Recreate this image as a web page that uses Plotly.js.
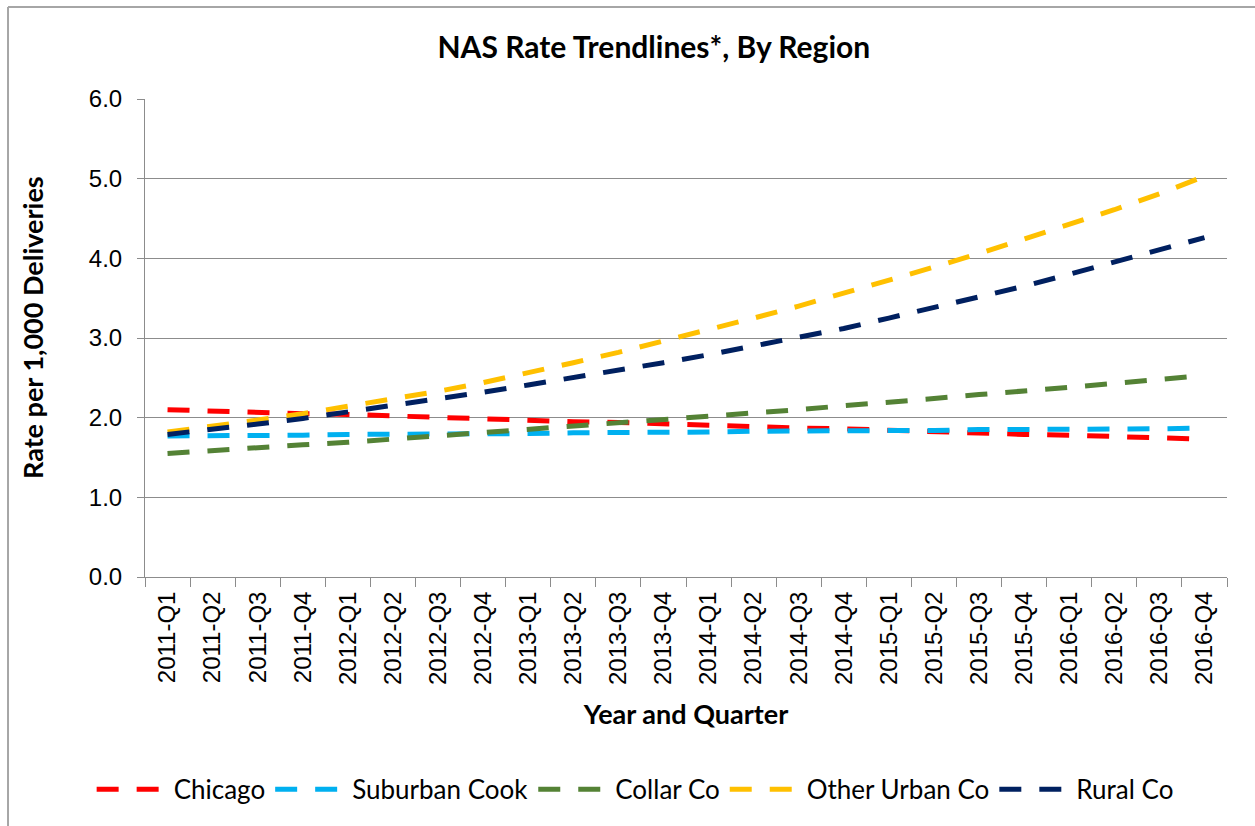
<!DOCTYPE html>
<html>
<head>
<meta charset="utf-8">
<script src="https://cdn.plot.ly/plotly-3.0.1.min.js"></script>
<style>
  body { margin: 0; background: #fff; }
  #chart { width: 1255px; height: 826px; }
</style>
</head>
<body>
<div id="chart"></div>
<script>
// quarters on the x axis
const quarters = [
    "2011-Q1", "2011-Q2", "2011-Q3", "2011-Q4",
    "2012-Q1", "2012-Q2", "2012-Q3", "2012-Q4",
    "2013-Q1", "2013-Q2", "2013-Q3", "2013-Q4",
    "2014-Q1", "2014-Q2", "2014-Q3", "2014-Q4",
    "2015-Q1", "2015-Q2", "2015-Q3", "2015-Q4",
    "2016-Q1", "2016-Q2", "2016-Q3", "2016-Q4"
];

// trendline values (rate per 1,000 deliveries)
const chicago = [2.10, 2.08, 2.07, 2.05, 2.04, 2.02, 2.00, 1.99, 1.97, 1.95, 1.94, 1.92,
                 1.91, 1.89, 1.87, 1.86, 1.84, 1.83, 1.81, 1.79, 1.78, 1.76, 1.75, 1.73];
const suburbanCook = [1.77, 1.77, 1.78, 1.78, 1.79, 1.79, 1.80, 1.80, 1.80, 1.81, 1.81, 1.82,
                      1.82, 1.83, 1.83, 1.83, 1.84, 1.84, 1.85, 1.85, 1.86, 1.86, 1.86, 1.87];
const collarCo = [1.55, 1.59, 1.62, 1.66, 1.69, 1.73, 1.77, 1.81, 1.85, 1.89, 1.93, 1.97,
                  2.02, 2.06, 2.10, 2.15, 2.19, 2.24, 2.29, 2.33, 2.38, 2.43, 2.48, 2.53];
const otherUrbanCo = [1.82, 1.89, 1.97, 2.05, 2.14, 2.23, 2.33, 2.44, 2.56, 2.69, 2.82, 2.96,
                      3.10, 3.25, 3.40, 3.56, 3.72, 3.89, 4.06, 4.24, 4.42, 4.61, 4.81, 5.03];
const ruralCo = [1.79, 1.85, 1.92, 1.99, 2.07, 2.15, 2.23, 2.32, 2.41, 2.50, 2.60, 2.69,
                 2.79, 2.90, 3.00, 3.12, 3.25, 3.38, 3.51, 3.65, 3.80, 3.95, 4.10, 4.26];

const seriesNames = ["Chicago", "Suburban Cook", "Collar Co", "Other Urban Co", "Rural Co"];
const seriesValues = [chicago, suburbanCook, collarCo, otherUrbanCo, ruralCo];
const seriesColors = ["#ff0000", "#00b0f0", "#548235", "#ffc000", "#002060"];

const data = seriesNames.map((name, i) => ({
    x: quarters,
    y: seriesValues[i],
    mode: "lines",
    name: name,
    line: { color: seriesColors[i], width: 5, dash: "22px,18px" },
    hoverinfo: "x+y+name"
}));

const grey = "#8c8c8c";
const titleFont = "Lato, 'Open Sans', sans-serif";
const tickFont = { family: "'Liberation Sans', Arial, sans-serif", size: 24, color: "#000" };

const layout = {
    width: 1255,
    height: 826,
    margin: { l: 145, r: 28, t: 99, b: 249 },
    paper_bgcolor: "#fff",
    plot_bgcolor: "#fff",
    showlegend: true,
    title: {
        text: "<b>NAS Rate Trendlines*, By Region</b>",
        font: { family: titleFont, size: 30, color: "#000" },
        x: 0.521, xanchor: "center",
        y: 0.942, yanchor: "middle"
    },
    xaxis: {
        type: "category",
        range: [-0.5, 23.5],
        tickson: "boundaries",
        ticks: "outside",
        ticklen: 9,
        tickcolor: grey,
        tickwidth: 1,
        showline: true,
        linecolor: grey,
        linewidth: 1,
        showgrid: false,
        tickangle: -90,
        tickfont: tickFont,
        ticklabelstandoff: 4,
        title: {
            text: "<b>Year and Quarter</b>",
            font: { family: titleFont, size: 27, color: "#000" },
            standoff: 21
        }
    },
    yaxis: {
        range: [0, 6],
        dtick: 1,
        tickformat: ".1f",
        ticks: "outside",
        ticklen: 7,
        tickcolor: grey,
        showline: true,
        linecolor: grey,
        linewidth: 1,
        showgrid: true,
        gridcolor: grey,
        gridwidth: 1,
        zeroline: false,
        tickfont: tickFont,
        ticklabelstandoff: 10
    },
    annotations: [
        {
            text: "<b>Rate per 1,000 Deliveries</b>",
            font: { family: titleFont, size: 27, color: "#000" },
            textangle: -90,
            xref: "paper", yref: "paper",
            x: -0.1035, y: 0.521,
            xanchor: "center", yanchor: "middle",
            showarrow: false
        }
    ],
    legend: {
        orientation: "h",
        x: 0.453, xanchor: "center",
        y: -0.444, yanchor: "middle",
        font: { family: titleFont, size: 26, color: "#000" },
        itemwidth: 72,
        tracegroupgap: 0
    },
    shapes: [
        // chart-area border (left and top edges)
        { type: "line", xref: "paper", yref: "paper", x0: -0.1266, x1: -0.1266, y0: 1.1925, y1: -0.55,
          line: { color: "#a6a6a6", width: 2 } },
        { type: "line", xref: "paper", yref: "paper", x0: -0.1266, x1: 1.03, y0: 1.1925, y1: 1.1925,
          line: { color: "#a6a6a6", width: 2 } }
    ]
};

Plotly.newPlot("chart", data, layout, { displayModeBar: false, staticPlot: true });
</script>
</body>
</html>
